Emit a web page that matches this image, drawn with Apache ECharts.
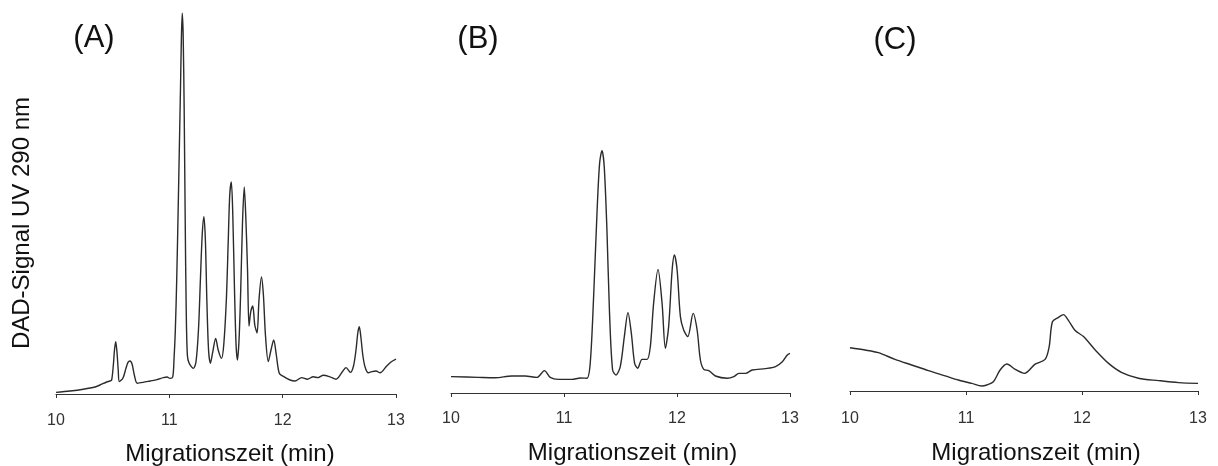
<!DOCTYPE html>
<html>
<head>
<meta charset="utf-8">
<title>DAD-Signal UV 290 nm</title>
<script src="https://cdn.jsdelivr.net/npm/echarts@6.0.0/dist/echarts.min.js"></script>
<style>
  html, body { margin: 0; padding: 0; background: #fff; }
  #chart { width: 1218px; height: 466px; }
</style>
</head>
<body>
<div id="chart"></div>
<script>
// Electropherogram traces (migration time in min, detector signal in arbitrary units)
const timeA = [10.000,10.124,10.241,10.344,10.388,10.447,10.476,10.491,10.506,10.516,10.527,10.538,10.549,10.559,10.591,10.618,10.635,10.653,10.671,10.693,10.717,10.768,10.830,10.891,10.947,10.980,11.006,11.030,11.041,11.053,11.065,11.077,11.088,11.099,11.107,11.114,11.122,11.131,11.140,11.149,11.159,11.174,11.212,11.235,11.257,11.274,11.290,11.305,11.318,11.331,11.346,11.362,11.383,11.409,11.431,11.460,11.480,11.503,11.520,11.533,11.547,11.560,11.575,11.589,11.601,11.615,11.630,11.645,11.661,11.674,11.690,11.703,11.718,11.736,11.754,11.774,11.791,11.813,11.830,11.848,11.873,11.897,11.921,11.944,11.970,12.006,12.065,12.109,12.168,12.218,12.270,12.312,12.359,12.418,12.471,12.521,12.559,12.598,12.625,12.647,12.663,12.676,12.691,12.707,12.727,12.756,12.788,12.824,12.859,12.918,12.956,13.000];
const signalA = [0.4,0.75,1.2,1.75,2.25,3.0,3.25,3.5,7.25,11,13.1,10.5,6,3.1,4,6.5,7.9,8.25,7.5,4.5,2.7,2.9,3.25,3.6,4.1,4.25,3.9,4.3,8.5,16,28.5,44.75,61,77.25,89.75,95.2,89.75,71,43.5,21,9.75,7.75,6.4,8,16,28.5,39.75,44.3,38.5,23.5,11,7.7,10.5,13.9,11,8.9,12.25,23.5,38.5,49.75,53,44.75,26,12.25,8.5,13.5,26,42.25,51.75,44.75,31,17,20.5,22,17.25,15.25,23.5,29.25,24.75,14.75,8.1,11,13.5,9.75,5.2,4.4,3.5,3.25,4.1,3.7,4.3,4.1,4.7,4.3,3.7,5.3,6.6,5.4,7,11,15.25,16.8,14,9.75,6.75,5.3,5.6,5.75,5.3,7,8,8.7];

const timeB = [10.000,10.242,10.390,10.538,10.656,10.760,10.827,10.878,10.951,11.070,11.144,11.203,11.232,11.262,11.292,11.315,11.336,11.356,11.380,11.403,11.430,11.460,11.498,11.534,11.566,11.596,11.625,11.652,11.691,11.735,11.764,11.793,11.832,11.868,11.897,11.926,11.957,11.977,12.001,12.030,12.059,12.095,12.143,12.178,12.207,12.237,12.281,12.340,12.444,12.503,12.547,12.606,12.666,12.784,12.872,12.932,12.976,13.000];
const signalB = [4.1,3.9,3.8,4.25,4.25,3.9,5.6,3.9,3.4,3.4,3.75,3.7,7.4,24,45,57.4,60.6,56.6,40.75,19.9,5.75,4.5,6.6,14.1,20.1,14.9,7.4,6.2,8.4,8.4,11.6,22.4,30.9,22.4,11.2,16.6,30.75,34.5,30.75,19.1,15.75,14.1,19.9,15.75,8.25,5.9,5.6,4.25,3.7,4.1,4.9,4.9,5.75,6.1,6.6,7.8,9.5,9.9];

const timeC = [10.000,10.129,10.244,10.388,10.532,10.676,10.820,10.934,11.050,11.136,11.179,11.236,11.294,11.352,11.424,11.504,11.596,11.682,11.717,11.745,11.797,11.840,11.884,11.941,12.013,12.114,12.229,12.344,12.487,12.660,12.833,13.000];
const signalC = [10.8,10.25,9.6,7.9,6.5,5.1,3.8,2.75,1.9,1.25,1.5,2.3,5.25,6.75,5.4,4.4,6.7,7.9,11.1,17.3,18.4,19.1,17.6,15.1,13.6,10.25,6.9,4.6,3.2,2.6,2.1,1.9];

const panelLabels = ['(A)', '(B)', '(C)'];
const xTicks = [10, 11, 12, 13];
const xTitle = 'Migrationszeit (min)';
const yTitle = 'DAD-Signal UV 290 nm';

const pairs = (t, s) => t.map((x, i) => [x, s[i]]);
const traces = [pairs(timeA, signalA), pairs(timeB, signalB), pairs(timeC, signalC)];

const chart = echarts.init(document.getElementById('chart'), null, { renderer: 'canvas' });

// Three side-by-side panels, each with its own grid; outer-bounds fitting off so the plot boxes stay put
const grids = [
  { left: 56,  right: 822, top: 10, bottom: 72, containLabel: false, outerBoundsMode: 'none' },
  { left: 451, right: 428, top: 9,  bottom: 73, containLabel: false, outerBoundsMode: 'none' },
  { left: 850, right: 20,  top: 7,  bottom: 75, containLabel: false, outerBoundsMode: 'none' }
];
const titleShift = [8, 24, 24];
const labelMargin = [19, 18, 20];
const titleGap = [48, 48, 50];

const xAxes = grids.map((g, i) => ({
  type: 'value',
  gridIndex: i,
  min: xTicks[0],
  max: xTicks[xTicks.length - 1],
  interval: 1,
  splitLine: { show: false },
  axisLine: { show: true, lineStyle: { color: '#333', width: 1 } },
  axisTick: { show: true, inside: false, length: 4, lineStyle: { color: '#333', width: 1 } },
  axisLabel: { margin: labelMargin[i], fontFamily: 'Liberation Sans', fontSize: 16, color: '#333' },
  name: xTitle,
  nameLocation: 'middle',
  nameGap: titleGap[i],
  nameTextStyle: { fontFamily: 'Liberation Sans', fontSize: 24, color: '#111', padding: [0, 0, 0, titleShift[i]] }
}));

const yAxes = grids.map((g, i) => ({
  type: 'value', gridIndex: i, min: 0, max: 96, show: false
}));

const series = traces.map((d, i) => ({
  type: 'line',
  xAxisIndex: i,
  yAxisIndex: i,
  data: d,
  showSymbol: false,
  smooth: 0.3,
  lineStyle: { color: '#2b2b2b', width: 1.4 },
  animation: false
}));

const labelPos = [[94, 38], [478, 39], [895, 40]];
const graphics = panelLabels.map((t, i) => ({
  type: 'text',
  x: labelPos[i][0], y: labelPos[i][1],
  style: { text: t, fill: '#111', font: '31px "Liberation Sans"', textAlign: 'center', textVerticalAlign: 'middle' }
}));
graphics.push({
  type: 'text',
  x: 22, y: 223, rotation: Math.PI / 2,
  style: { text: yTitle, fill: '#111', font: '24px "Liberation Sans"', textAlign: 'center', textVerticalAlign: 'middle' }
});

chart.setOption({
  backgroundColor: '#fff',
  animation: false,
  grid: grids,
  xAxis: xAxes,
  yAxis: yAxes,
  series: series,
  graphic: graphics
});
</script>
</body>
</html>
